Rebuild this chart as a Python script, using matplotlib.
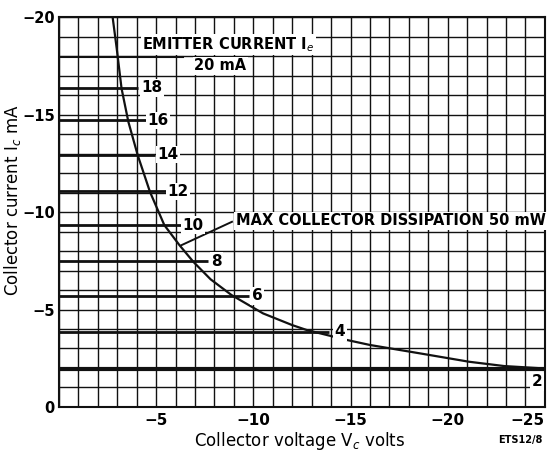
import matplotlib
matplotlib.use("Agg")
import matplotlib.pyplot as plt

# emitter current curves: label, collector current, end of the line, label position
emitter_ma = ["2", "4", "6", "8", "10", "12", "14", "16", "18"]
collector_ma = [-1.95, -3.85, -5.7, -7.48, -9.33, -11.06, -12.95, -14.7, -16.38]
line_end_v = [-25.0, -13.9, -9.8, -7.65, -6.4, -5.55, -4.95, -4.5, -4.05]
label_v = [-24.6, -14.45, -10.2, -8.1, -6.9, -6.1, -5.6, -5.1, -4.8]

# 20 mA curve (runs into the caption)
ie20_ic = -17.96
ie20_end_v = -6.4

# 50 mW dissipation curve
diss_v = [-2.76, -2.97, -3.22, -3.57, -4.05, -4.68, -5.42, -6.2, -6.91, -7.8,
          -8.88, -10.5, -12.0, -12.74, -14.8, -16.0, -18.57, -21.1, -22.9, -24.9]
diss_i = [-20.0, -18.4, -16.34, -14.63, -12.92, -11.04, -9.33, -8.3, -7.45, -6.55,
          -5.74, -4.8, -4.2, -3.95, -3.44, -3.18, -2.75, -2.32, -2.1, -1.98]

xticks = [0, -5, -10, -15, -20, -25]
yticks = [0, -5, -10, -15, -20]

fig = plt.figure(figsize=(5.51, 4.5), dpi=100)
ax = fig.add_axes([0.107, 0.0956, 0.882, 0.8664])
ax.set_xlim(0, -25)
ax.set_ylim(0, -20)

# grid every 1 V / 1 mA
ax.set_xticks(range(0, -26, -1), minor=True)
ax.set_yticks(range(0, -21, -1), minor=True)
ax.grid(which="both", color="#111111", linewidth=1.0)
ax.set_axisbelow(True)
for s in ax.spines.values():
    s.set_linewidth(1.5)
    s.set_color("#111111")

ax.set_xticks(xticks)
ax.set_xticklabels(["" if t == 0 else "\u2212%d" % abs(t) for t in xticks],
                   fontweight="bold", fontsize=11)
ax.get_xticklabels()[-1].set_horizontalalignment("right")
ax.set_yticks(yticks)
ax.set_yticklabels(["0" if t == 0 else "\u2212%d" % abs(t) for t in yticks],
                   fontweight="bold", fontsize=10.5)
ax.tick_params(which="both", length=0)
ax.tick_params(axis="x", pad=4)
ax.tick_params(axis="y", pad=3)

txt_box = dict(facecolor="white", edgecolor="none", pad=1.0)

for lab, ic, end, lv in zip(emitter_ma, collector_ma, line_end_v, label_v):
    lw = 3.0 if lab == "2" else 2.0
    ax.plot([0, end], [ic, ic], color="#111111", linewidth=lw, zorder=3,
            solid_capstyle="butt")
    if lab == "2":
        ax.text(lv, ic + 0.65, lab, ha="center", va="center", fontsize=11,
                fontweight="bold", bbox=txt_box, zorder=5)
    else:
        ax.text(lv, ic, lab, ha="center", va="center", fontsize=11,
                fontweight="bold", bbox=txt_box, zorder=5)

ax.plot([0, ie20_end_v], [ie20_ic, ie20_ic], color="#111111", linewidth=1.5,
        zorder=3)
ax.text(-8.7, -18.6, "EMITTER CURRENT I$_e$", ha="center", va="center",
        fontsize=10.5, fontweight="bold", bbox=txt_box, zorder=5)
ax.text(-8.3, -17.5, "20 mA", ha="center", va="center", fontsize=10.5,
        fontweight="bold", bbox=txt_box, zorder=5)

ax.plot(diss_v, diss_i, color="#111111", linewidth=1.6, zorder=4)
ax.plot([-6.3, -8.9], [-8.3, -9.5], color="#111111", linewidth=1.4, zorder=4)
ax.text(-9.1, -9.55, "MAX COLLECTOR DISSIPATION 50 mW", ha="left",
        va="center", fontsize=10.5, fontweight="bold", bbox=txt_box, zorder=5)

ax.set_xlabel("Collector voltage V$_c$ volts", fontsize=12, va="center")
ax.xaxis.set_label_coords(0.496, -0.086)
ax.set_ylabel("Collector current I$_c$ mA", fontsize=12, va="center")
ax.yaxis.set_label_coords(-0.096, 0.53)
fig.text(0.944, 0.012, "ETS12/8", ha="center", va="bottom", fontsize=7,
         fontweight="bold")

fig.savefig("out.png", dpi=100)
